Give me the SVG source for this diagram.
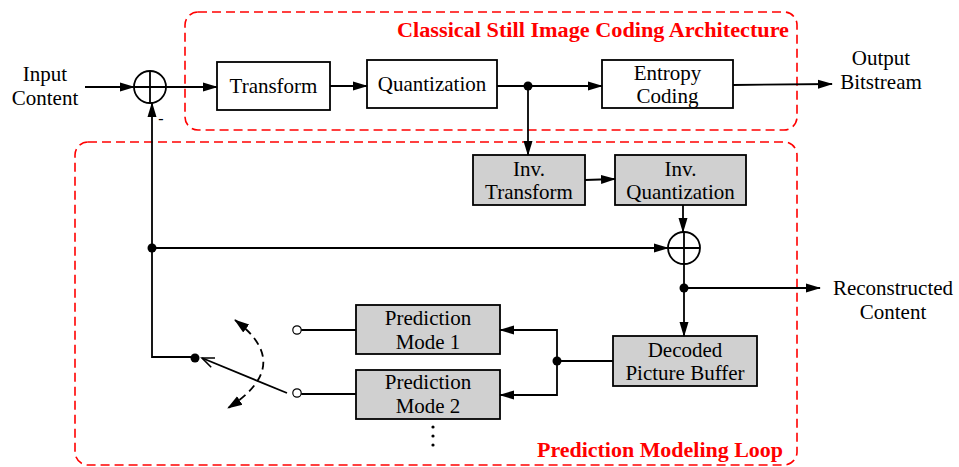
<svg xmlns="http://www.w3.org/2000/svg" width="959" height="467" viewBox="0 0 959 467">
<defs>
<marker id="ah" markerUnits="userSpaceOnUse" markerWidth="16" markerHeight="12" refX="14" refY="6" orient="auto">
<path d="M0,1.5 L15,6 L0,10.5 Z" fill="#000"/>
</marker>
<marker id="dah" markerUnits="userSpaceOnUse" markerWidth="16" markerHeight="12" refX="14" refY="6" orient="auto-start-reverse">
<path d="M0,1 L15,6 L0,11 Z" fill="#000"/>
</marker>
<marker id="oah" markerUnits="userSpaceOnUse" markerWidth="16" markerHeight="12" refX="13" refY="6" orient="auto">
<path d="M1,1 L13,6 L1,11" fill="none" stroke="#000" stroke-width="1.6"/>
</marker>
</defs>
<style>
.reg{fill:none;stroke:#ff0000;stroke-width:1.6;stroke-dasharray:9,5}
.box{fill:#fff;stroke:#000;stroke-width:1.8}
.gbox{fill:#d0d0d0;stroke:#000;stroke-width:1.8}
.t{font-family:'Liberation Serif','Times New Roman',serif;font-size:21px;fill:#000;text-anchor:middle}
.rt{font-family:'Liberation Serif','Times New Roman',serif;font-size:20.5px;font-weight:bold;fill:#ff0000;text-anchor:end}
.ln{fill:none;stroke:#000;stroke-width:1.8}
.dot{fill:#000}
.sum{fill:#fff;stroke:#000;stroke-width:1.8}
</style>
<g id="region-classical">
<rect class="reg" x="185" y="12" width="612" height="118" rx="13"/>
<text class="rt" x="789" y="37" textLength="392" lengthAdjust="spacingAndGlyphs">Classical Still Image Coding Architecture</text>
</g>
<g id="region-prediction">
<rect class="reg" x="75" y="142" width="722" height="323" rx="13"/>
<text class="rt" x="783" y="457" textLength="246" lengthAdjust="spacingAndGlyphs">Prediction Modeling Loop</text>
</g>
<g id="input-label"><text class="t" x="45" y="81">Input</text><text class="t" x="45" y="105">Content</text></g>
<g id="sum1"><circle class="sum" cx="150" cy="87" r="16"/><path class="ln" d="M134,87 H166 M150,71 V103"/></g>
<g id="transform"><rect class="box" x="217" y="62" width="113" height="48"/><text class="t" x="273.5" y="93">Transform</text></g>
<g id="quantization"><rect class="box" x="367" y="60" width="130" height="48"/><text class="t" x="432" y="91">Quantization</text></g>
<g id="entropy"><rect class="box" x="602" y="60" width="131" height="48"/><text class="t" x="667.5" y="80">Entropy</text><text class="t" x="667.5" y="103">Coding</text></g>
<g id="output-label"><text class="t" x="881" y="65">Output</text><text class="t" x="881" y="89">Bitstream</text></g>
<g id="inv-transform"><rect class="gbox" x="473" y="155" width="112" height="50"/><text class="t" x="529" y="176">Inv.</text><text class="t" x="529" y="199">Transform</text></g>
<g id="inv-quantization"><rect class="gbox" x="615" y="155" width="131" height="50"/><text class="t" x="680.5" y="176">Inv.</text><text class="t" x="680.5" y="199">Quantization</text></g>
<g id="sum2"><circle class="sum" cx="684" cy="248" r="16"/><path class="ln" d="M668,248 H700 M684,232 V264"/></g>
<g id="reconstructed-label"><text class="t" x="893" y="295">Reconstructed</text><text class="t" x="893" y="319">Content</text></g>
<g id="dpb"><rect class="gbox" x="613" y="336" width="144" height="50"/><text class="t" x="685" y="357">Decoded</text><text class="t" x="685" y="380">Picture Buffer</text></g>
<g id="pred-mode-1"><rect class="gbox" x="356" y="305" width="144" height="49"/><text class="t" x="428" y="325">Prediction</text><text class="t" x="428" y="349">Mode 1</text></g>
<g id="pred-mode-2"><rect class="gbox" x="356" y="370" width="144" height="49"/><text class="t" x="428" y="389">Prediction</text><text class="t" x="428" y="413">Mode 2</text></g>
<g id="switch">
<circle class="dot" cx="195" cy="358" r="4.5"/>
<circle cx="297" cy="330" r="4.2" fill="#fff" stroke="#000" stroke-width="1.2"/>
<circle cx="297" cy="393" r="4.2" fill="#fff" stroke="#000" stroke-width="1.2"/>
<path class="ln" d="M287,393 L202,358" marker-end="url(#oah)"/>
<path d="M235,320 Q295,365 228,408" fill="none" stroke="#000" stroke-width="1.8" stroke-dasharray="8,5" marker-start="url(#dah)" marker-end="url(#dah)"/>
</g>
<g id="ellipsis"><circle class="dot" cx="433" cy="427" r="1.6"/><circle class="dot" cx="433" cy="436" r="1.6"/><circle class="dot" cx="433" cy="445" r="1.6"/></g>
<g id="connectors">
<path class="ln" d="M85,87 H134" marker-end="url(#ah)"/>
<path class="ln" d="M166,87 H217" marker-end="url(#ah)"/>
<path class="ln" d="M330,86 H367" marker-end="url(#ah)"/>
<path class="ln" d="M497,86 H602" marker-end="url(#ah)"/>
<path class="ln" d="M733,85 L832,84" marker-end="url(#ah)"/>
<path class="ln" d="M528,86 V155" marker-end="url(#ah)"/>
<circle class="dot" cx="528" cy="86" r="4.5"/>
<path class="ln" d="M585,180 L615,179" marker-end="url(#ah)"/>
<path class="ln" d="M683,205 V232" marker-end="url(#ah)"/>
<path class="ln" d="M152,248 H668" marker-end="url(#ah)"/>
<circle class="dot" cx="152" cy="248" r="4.5"/>
<path class="ln" d="M195,357 H152 V103" marker-end="url(#ah)"/>
<text class="t" x="161" y="124" style="font-size:16px">-</text>
<path class="ln" d="M684,264 V336" marker-end="url(#ah)"/>
<path class="ln" d="M684,288 H820" marker-end="url(#ah)"/>
<circle class="dot" cx="684" cy="288" r="4.5"/>
<path class="ln" d="M613,361 H557"/>
<path class="ln" d="M557,361 V330 H500" marker-end="url(#ah)"/>
<path class="ln" d="M557,361 V395 H500" marker-end="url(#ah)"/>
<circle class="dot" cx="557" cy="361" r="4.5"/>
<path class="ln" d="M356,330 H301.2"/>
<path class="ln" d="M356,394 H301.2"/>
</g>
</svg>
